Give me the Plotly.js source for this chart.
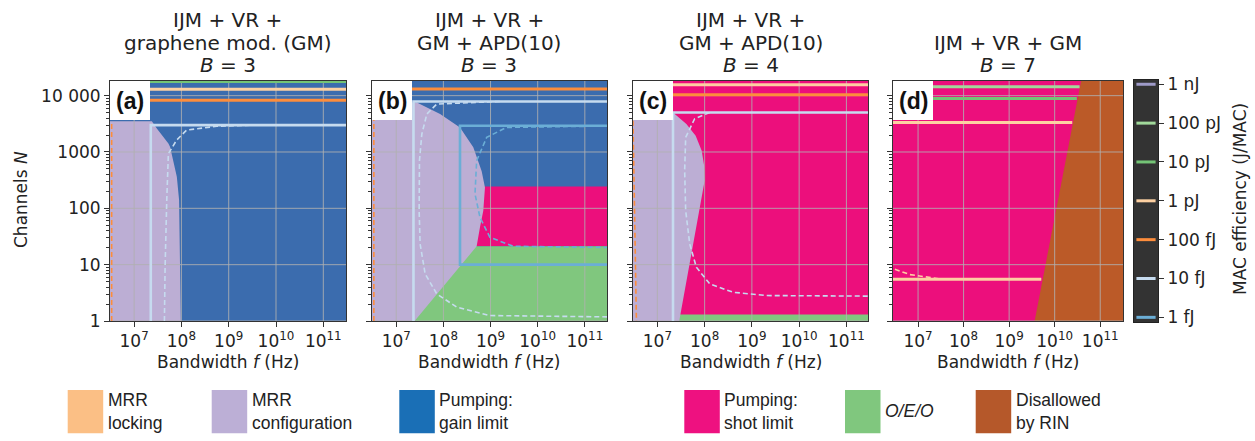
<!DOCTYPE html>
<html><head><meta charset="utf-8">
<script src="https://cdn.plot.ly/plotly-3.0.1.min.js"></script>
<style>html,body{margin:0;padding:0;background:#fff}#chart{width:1255px;height:441px}</style>
</head><body><div id="chart"></div><script>
// ================= DATA =================
const panelLabels = ['(a)', '(b)', '(c)', '(d)'];
const titleLine1 = ['IJM + VR +', 'IJM + VR +', 'IJM + VR +', ''];
const titleLine2 = ['graphene mod. (GM)', 'GM + APD(10)', 'GM + APD(10)', 'IJM + VR + GM'];
const bitsB = [3, 3, 4, 7];

const xTickVals = [1e7, 1e8, 1e9, 1e10, 1e11];
const xTickText = ['10<sup>7</sup>', '10<sup>8</sup>', '10<sup>9</sup>', '10<sup>10</sup>', '10<sup>11</sup>'];
const yTickVals = [1, 10, 100, 1000, 10000];
const yTickText = ['1', '10', '100', '1000', '10 000'];

const energyLevels = ['1 fJ', '10 fJ', '100 fJ', '1 pJ', '10 pJ', '100 pJ', '1 nJ'];
const energyColors = ['#6baed6', '#c6dbef', '#fd8d3c', '#fdd0a2', '#74c476', '#a1d99b', '#9e9ac8'];

const legendNames = ['MRR<br>locking', 'MRR<br>configuration', 'Pumping:<br>gain limit', 'Pumping:<br>shot limit', '<i>O/E/O</i>', 'Disallowed<br>by RIN'];
const legendColors = ['#fbbf85', '#bcafd6', '#1a6fb6', '#ee1180', '#80c77e', '#b5582a'];

// region fill colours as they appear inside the panels
const C = {cfg: '#bcaed4', gain: '#3b6cae', shot: '#ec0f7c', oeo: '#80c77e', rin: '#bb5a28'};

// extent used for backgrounds / full-width lines (outside the visible ranges)
const F_LO = 1e6, F_HI = 1e12, N_LO = 0.3, N_HI = 1e5;
const bg_f = [F_LO, F_HI, F_HI, F_LO];
const bg_N = [N_LO, N_LO, N_HI, N_HI];

// ---- panel (a) ----
const a_cfg_f = [1e6, 2.37e7, 3.02e7, 4.17e7, 5.31e7, 5.77e7, 6.76e7, 8.0e7, 8.93e7, 9.38e7, 9.86e7, 9.9e7, 1e6];
const a_cfg_N = [3520, 3520, 2612, 1858, 1419, 1230, 716, 362, 140, 9.2, 1, 0.3, 0.3];
const a_10fJ_f = [2.25e7, 2.25e7, 1e12];
const a_10fJ_N = [0.3, 3000, 3000];
const a_10fJd_f = [4.37e7, 4.52e7, 4.9e7, 5.3e7, 7.9e7, 1.29e8, 5.6e8, 2.8e9, 1e12];
const a_10fJd_N = [1, 9.2, 140, 930, 1620, 2450, 2860, 2990, 3000];
const a_lock_f = [3.35e6, 3.35e6];
const a_lock_N = [1, 3520];
const a_top_N = [17800, 13000, 8300];
const a_top_lvl = [4, 3, 2];

// ---- panel (b) ----
const b_shot_f = [1e8, 1e12, 1e12, 1e8];
const b_shot_N = [21.2, 21.2, 245, 245];
const b_oeo_f = [1e7, 1e12, 1e12, 1e7];
const b_oeo_N = [0.3, 0.3, 21.2, 21.2];
const b_cfg_f = [1e6, 2.74e7, 8.51e7, 2.25e8, 4.31e8, 6.49e8, 7.62e8, 7.02e8, 5.97e8, 5.08e8, 2.45e7, 2.4e7, 1e6];
const b_cfg_N = [7570, 7570, 4720, 2730, 1208, 457, 235, 91, 46, 21.2, 1, 0.3, 0.3];
const b_10fJ_f = [2.32e7, 2.32e7, 1e12];
const b_10fJ_N = [0.3, 7890, 7890];
const b_1fJ_f = [1e12, 2.25e8, 2.25e8, 1e12];
const b_1fJ_N = [2930, 2930, 10, 10];
const b_1fJd_f = [1e12, 2.19e9, 8.28e8, 5.08e8, 4.68e8, 5.97e8, 9.7e8, 3.02e9, 1e12];
const b_1fJd_N = [2930, 2730, 1815, 702, 180, 69, 30.6, 21.2, 19.9];
const b_10fJd_f = [1.58e9, 7.24e7, 4.46e7, 3.49e7, 3.11e7, 3.06e7, 3.21e7, 4.1e7, 7.24e7, 1.92e8, 9.7e8, 1e12];
const b_10fJd_N = [7890, 7100, 4720, 2080, 702, 91, 23.4, 6.87, 3.03, 1.76, 1.25, 1.17];
const b_lock_f = [3.35e6, 3.35e6];
const b_lock_N = [1, 7570];
const b_top_N = [13100];
const b_top_lvl = [2];

// ---- panel (c) ----
const c_oeo_f = [1e7, 1e12, 1e12, 1e7];
const c_oeo_N = [0.3, 0.3, 1.3, 1.3];
const c_cfg_f = [1e6, 2.14e7, 4.11e7, 6.46e7, 8.67e7, 9.77e7, 1e8, 2.9e7, 2.85e7, 1e6];
const c_cfg_N = [5010, 5010, 3140, 1945, 1054, 571, 309, 1, 0.3, 0.3];
const c_10fJ_f = [2.14e7, 2.14e7, 1e12];
const c_10fJ_N = [0.3, 5010, 5010];
const c_10fJd_f = [1.28e8, 6.15e7, 3.97e7, 3.78e7, 3.97e7, 4.83e7, 6.68e7, 1.28e8, 3.98e8, 2.03e9, 1e12];
const c_10fJd_N = [5035, 3890, 1815, 466, 91, 23.4, 9.0, 4.57, 3.24, 2.83, 2.75];
const c_lock_f = [3.05e6, 3.6e6];
const c_lock_N = [3590, 1];
const c_top_N = [15600, 10400];
const c_top_lvl = [3, 2];

// ---- panel (d) ----
const d_rin_f = [2.72e9, 5.71e10, 1e12, 1e12];
const d_rin_N = [0.3, 1e5, 1e5, 0.3];
const d_top_N = [14400, 8920, 3350, 5.51];
const d_top_lvl = [5, 4, 3, 3];
const d_top_fEnd = [3.52e10, 3.07e10, 2.43e10, 5.08e9];
const d_1pJd_f = [3.1e6, 6.58e6, 2.99e7];
const d_1pJd_N = [8.3, 6.67, 5.6];

const panels = [
  {bg: C.gain,
   fills: [{f: a_cfg_f, N: a_cfg_N, c: C.cfg}],
   solid: [{f: a_10fJ_f, N: a_10fJ_N, lvl: 1}],
   dashed: [{f: a_10fJd_f, N: a_10fJd_N, lvl: 1}, {f: a_lock_f, N: a_lock_N, lvl: 2}],
   hl: {N: a_top_N, lvl: a_top_lvl, fEnd: null}},
  {bg: C.gain,
   fills: [{f: b_shot_f, N: b_shot_N, c: C.shot}, {f: b_oeo_f, N: b_oeo_N, c: C.oeo}, {f: b_cfg_f, N: b_cfg_N, c: C.cfg}],
   solid: [{f: b_10fJ_f, N: b_10fJ_N, lvl: 1}, {f: b_1fJ_f, N: b_1fJ_N, lvl: 0}],
   dashed: [{f: b_10fJd_f, N: b_10fJd_N, lvl: 1}, {f: b_1fJd_f, N: b_1fJd_N, lvl: 0}, {f: b_lock_f, N: b_lock_N, lvl: 2}],
   hl: {N: b_top_N, lvl: b_top_lvl, fEnd: null}},
  {bg: C.shot,
   fills: [{f: c_oeo_f, N: c_oeo_N, c: C.oeo}, {f: c_cfg_f, N: c_cfg_N, c: C.cfg}],
   solid: [{f: c_10fJ_f, N: c_10fJ_N, lvl: 1}],
   dashed: [{f: c_10fJd_f, N: c_10fJd_N, lvl: 1}, {f: c_lock_f, N: c_lock_N, lvl: 2}],
   hl: {N: c_top_N, lvl: c_top_lvl, fEnd: null}},
  {bg: C.shot,
   fills: [{f: d_rin_f, N: d_rin_N, c: C.rin}],
   solid: [],
   dashed: [{f: d_1pJd_f, N: d_1pJd_N, lvl: 3}],
   hl: {N: d_top_N, lvl: d_top_lvl, fEnd: d_top_fEnd}}
];

// ================= LAYOUT / DRAW =================
const W = 1255, H = 441;
const FONT = 'DejaVu Sans, sans-serif';
const TXT = '#222';
const GRID = 'rgba(176,176,176,0.85)';
const boxes = [{l: 110, r: 346}, {l: 372, r: 607}, {l: 633, r: 868}, {l: 893, r: 1123}];
const X_RANGE = [[6.49, 11.48], [6.486, 11.47], [6.484, 11.457], [6.45, 11.50]];
const Y_RANGE = [0, 4.26];
const PT = 81, PB = 321;

const minorVals = [];
[0, 1, 2, 3, 4].forEach(d => { for (let m = 2; m <= 9; m++) minorVals.push(m * Math.pow(10, d)); });

const traces = [];
function add(tr, k) {
  tr.xaxis = k === 0 ? 'x' : 'x' + (k + 1);
  tr.yaxis = k === 0 ? 'y' : 'y' + (k + 1);
  tr.hoverinfo = 'skip';
  tr.showlegend = false;
  traces.push(tr);
}

const layout = {
  width: W, height: H, margin: {l: 0, r: 0, t: 0, b: 0},
  paper_bgcolor: '#fff', plot_bgcolor: '#fff', showlegend: false,
  shapes: [], annotations: []
};

panels.forEach((p, k) => {
  add({x: bg_f, y: bg_N, mode: 'lines', fill: 'toself', fillcolor: p.bg, line: {width: 0}}, k);
  p.fills.forEach(r => add({x: r.f, y: r.N, mode: 'lines', fill: 'toself', fillcolor: r.c, line: {width: 0}}, k));
  const gx = [], gy = [];
  xTickVals.forEach(v => { gx.push(v, v, null); gy.push(N_LO, N_HI, null); });
  yTickVals.forEach(v => { gx.push(F_LO, F_HI, null); gy.push(v, v, null); });
  add({x: gx, y: gy, mode: 'lines', line: {color: GRID, width: 1}}, k);
  p.dashed.forEach(r => add({x: r.f, y: r.N, mode: 'lines', line: {color: energyColors[r.lvl], width: 1.6, dash: '5px,3px'}}, k));
  p.solid.forEach(r => add({x: r.f, y: r.N, mode: 'lines', line: {color: energyColors[r.lvl], width: 2.6}}, k));
  p.hl.N.forEach((n, i) => add({x: [F_LO, p.hl.fEnd ? p.hl.fEnd[i] : F_HI], y: [n, n], mode: 'lines',
    line: {color: energyColors[p.hl.lvl[i]], width: 3}}, k));

  const sx = k === 0 ? '' : String(k + 1);
  const b = boxes[k];
  layout['xaxis' + sx] = {
    type: 'log', range: X_RANGE[k], domain: [b.l / W, b.r / W], anchor: 'y' + sx,
    tickmode: 'array', tickvals: xTickVals, ticktext: xTickText,
    ticks: 'outside', ticklen: 5, tickwidth: 1, tickcolor: '#333',
    showgrid: false, zeroline: false, showline: true, mirror: true, linecolor: '#333', linewidth: 1,
    tickfont: {family: FONT, size: 17, color: TXT}, fixedrange: true
  };
  layout['yaxis' + sx] = {
    type: 'log', range: Y_RANGE, domain: [1 - PB / H, 1 - PT / H], anchor: 'x' + sx,
    tickmode: 'array', tickvals: yTickVals, ticktext: yTickText, showticklabels: k === 0,
    ticks: 'outside', ticklen: 5, tickwidth: 1, tickcolor: '#333',
    minor: {tickmode: 'array', tickvals: minorVals, ticks: 'outside', ticklen: 3, tickcolor: '#333', showgrid: false},
    showgrid: false, zeroline: false, showline: true, mirror: true, linecolor: '#333', linewidth: 1,
    tickfont: {family: FONT, size: 17, color: TXT}, fixedrange: true
  };

  // panel label box
  layout.shapes.push({type: 'rect', xref: 'x' + sx + ' domain', yref: 'y' + sx + ' domain',
    x0: 0, x1: 40 / (b.r - b.l), y0: 1 - 39 / (PB - PT), y1: 1, fillcolor: '#fff', line: {width: 0}, layer: 'above'});
  layout.annotations.push({xref: 'x' + sx + ' domain', yref: 'y' + sx + ' domain', x: 20 / (b.r - b.l), y: 1 - 20 / (PB - PT),
    text: '<b>' + panelLabels[k] + '</b>', showarrow: false, xanchor: 'center', yanchor: 'middle',
    font: {family: 'Liberation Sans, Arial, sans-serif', size: 23, color: '#111'}});

  // titles
  const cx = (b.l + b.r) / 2 / W;
  const lines = [[titleLine1[k], 20], [titleLine2[k], 43], ['<i>B</i> = ' + bitsB[k], 65]];
  lines.forEach(([t, yy]) => {
    if (!t) return;
    layout.annotations.push({xref: 'paper', yref: 'paper', x: cx, y: 1 - yy / H, text: t, showarrow: false,
      xanchor: 'center', yanchor: 'middle', font: {family: FONT, size: 20, color: TXT}});
  });
  // x axis title
  layout.annotations.push({xref: 'paper', yref: 'paper', x: cx, y: 1 - 362 / H, text: 'Bandwidth <i>f</i> (Hz)',
    showarrow: false, xanchor: 'center', yanchor: 'middle', font: {family: FONT, size: 17, color: TXT}});
});

// y title
layout.annotations.push({xref: 'paper', yref: 'paper', x: 21 / W, y: 1 - 200 / H, text: 'Channels <i>N</i>', textangle: -90,
  showarrow: false, xanchor: 'center', yanchor: 'middle', font: {family: FONT, size: 17, color: TXT}});

// ---- colorbar (categorical energy levels) ----
layout.xaxis5 = {domain: [1134 / W, 1158 / W], range: [0, 1], anchor: 'y5', showticklabels: false, ticks: '',
  showgrid: false, zeroline: false, showline: true, mirror: true, linecolor: '#222', linewidth: 1, fixedrange: true};
layout.yaxis5 = {domain: [1 - 322 / H, 1 - 80 / H], range: [-0.12, 6.11], anchor: 'x5', side: 'right',
  tickmode: 'array', tickvals: energyLevels.map((_, i) => i), ticktext: energyLevels,
  ticks: 'outside', ticklen: 5, tickcolor: '#333', showgrid: false, zeroline: false,
  showline: true, mirror: true, linecolor: '#222', linewidth: 1,
  tickfont: {family: FONT, size: 17, color: TXT}, fixedrange: true};
layout.shapes.push({type: 'rect', xref: 'x5 domain', yref: 'y5 domain', x0: 0, x1: 1, y0: 0, y1: 1,
  fillcolor: '#333333', line: {width: 0}, layer: 'below'});
energyLevels.forEach((lv, i) => {
  traces.push({x: [0.1, 0.9], y: [i, i], xaxis: 'x5', yaxis: 'y5', mode: 'lines',
    line: {color: energyColors[i], width: 3}, hoverinfo: 'skip', showlegend: false});
});
layout.annotations.push({xref: 'paper', yref: 'paper', x: 1240 / W, y: 1 - 199 / H, text: 'MAC efficiency (J/MAC)',
  textangle: -90, showarrow: false, xanchor: 'center', yanchor: 'middle', font: {family: FONT, size: 17, color: TXT}});

// ---- bottom legend ----
const legX = [67.7, 211.7, 399.3, 684.3, 845, 975.7];
legendNames.forEach((name, i) => {
  layout.shapes.push({type: 'rect', xref: 'paper', yref: 'paper', x0: legX[i] / W, x1: (legX[i] + 35.5) / W,
    y0: 1 - 433.3 / H, y1: 1 - 390 / H, fillcolor: legendColors[i], line: {width: 0}});
  layout.annotations.push({xref: 'paper', yref: 'paper', x: (legX[i] + 38) / W, y: 1 - 411 / H, text: name,
    showarrow: false, xanchor: 'left', yanchor: 'middle', align: 'left',
    font: {family: 'Liberation Sans, Arial, sans-serif', size: 17.5, color: TXT}});
});

Plotly.newPlot('chart', traces, layout, {staticPlot: true, displayModeBar: false});
</script></body></html>
